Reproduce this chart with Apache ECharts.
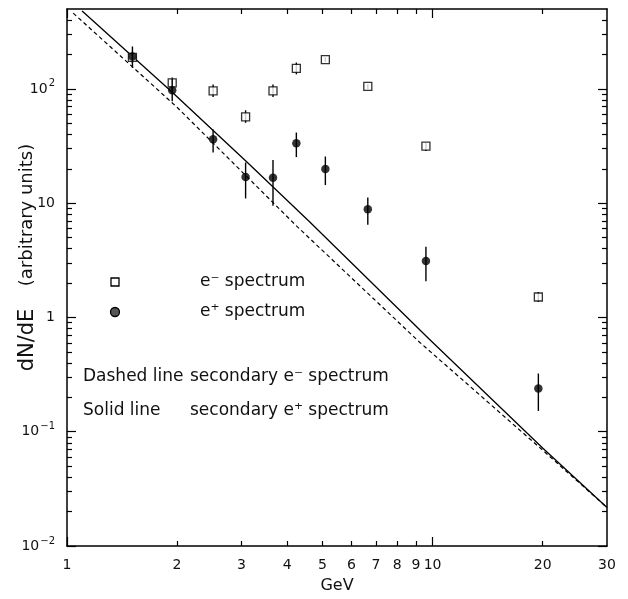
<!DOCTYPE html>
<html><head><meta charset="utf-8">
<script src="https://cdn.jsdelivr.net/npm/echarts@6/dist/echarts.min.js"></script>
<style>html,body{margin:0;padding:0;background:#fff}#c{width:628px;height:599px}</style>
</head><body><div id="c"></div>
<script>
// ---- data ----
const energies   = [1.51, 1.94, 2.51, 3.08, 3.66, 4.24, 5.09, 6.65, 9.59, 19.47];
const eMinus     = [189, 113, 96, 57, 96, 151, 180, 105, 31.6, 1.51];
const eMinusLow  = [168, 101, 85, 50.5, 85, 134, 172, 100, 28.6, 1.37];
const eMinusHigh = [212, 126, 109, 65, 109, 170, 189, 110, 33.6, 1.67];
const ePlus      = [192, 97.5, 36.3, 16.9, 16.7, 33.4, 19.9, 8.83, 3.12, 0.239];
const ePlusLow   = [153, 77.8, 27.7, 11.0, 9.5, 25.3, 14.4, 6.46, 2.07, 0.152];
const ePlusHigh  = [235, 122, 44, 22.7, 23.9, 41.5, 25.6, 11.2, 4.15, 0.323];
const solidX  = [1.1, 1.95, 3.1, 4.6, 9.8, 20, 30];
const solidY  = [480, 92, 23, 6.9, 0.645, 0.072, 0.0217];
const dashedX = [1.04, 2, 4.27, 9.2, 20, 30];
const dashedY = [460, 69, 6.2, 0.61, 0.069, 0.0217];

const xMajorTicks = [1, 10];
const xMinorTicks = [2, 3, 4, 5, 6, 7, 8, 9, 20];
const xTickLabels = [1, 2, 3, 4, 5, 6, 7, 8, 9, 10, 20, 30];
const yMajorTicks = [0.01, 0.1, 1, 10, 100];
const yTickBases  = ['10', '10', '1', '10', '10'];
const yTickExps   = ['−2', '−1', '', '', '2'];
const yMinorTicks = [0.02,0.03,0.04,0.05,0.06,0.07,0.08,0.09,
                     0.2,0.3,0.4,0.5,0.6,0.7,0.8,0.9,
                     2,3,4,5,6,7,8,9,
                     20,30,40,50,60,70,80,90,
                     200,300,400];

const FONT = 'DejaVu Sans';
const X_MIN = 1, X_MAX = 30, Y_MIN = 0.01, Y_MAX = 500;

function xAxisCfg(pos, ticks, len, showLine, withLabels) {
  return {
    type: 'log', logBase: 10, min: X_MIN, max: X_MAX, position: pos,
    axisLine: {show: showLine, onZero: false, lineStyle: {color: '#000', width: 1.5}},
    axisTick: {show: true, inside: true, length: len, customValues: ticks, lineStyle: {color: '#000', width: 1.2}},
    axisLabel: withLabels ? {show: true, customValues: xTickLabels, color: '#111', fontFamily: FONT, fontSize: 14, margin: 12,
                formatter: v => String(Math.round(v))} : {show: false},
    splitLine: {show: false}, minorTick: {show: false},
    name: withLabels ? 'GeV' : '', nameLocation: 'middle', nameGap: 32,
    nameTextStyle: {color: '#111', fontFamily: FONT, fontSize: 16}
  };
}
function yLabel(v) {
  for (let i = 0; i < yMajorTicks.length; i++) {
    if (Math.abs(Math.log10(v) - Math.log10(yMajorTicks[i])) < 1e-6) {
      return '{b|' + yTickBases[i] + '}' + (yTickExps[i] ? '{s|' + yTickExps[i] + '}' : '');
    }
  }
  return '';
}
function yAxisCfg(pos, ticks, len, showLine, withLabels) {
  return {
    type: 'log', logBase: 10, min: Y_MIN, max: Y_MAX, position: pos,
    axisLine: {show: showLine, onZero: false, lineStyle: {color: '#000', width: 1.5}},
    axisTick: {show: true, inside: true, length: len, customValues: ticks, lineStyle: {color: '#000', width: 1.2}},
    axisLabel: withLabels ? {show: true, customValues: yMajorTicks, margin: 12, formatter: yLabel,
                rich: {
                  b: {color: '#111', fontFamily: FONT, fontSize: 14},
                  s: {color: '#111', fontFamily: FONT, fontSize: 10, padding: [0, 0, 10, 1]}
                }} : {show: false},
    splitLine: {show: false}, minorTick: {show: false}
  };
}

function errorBar(params, api) {
  const x = api.value(0);
  const p1 = api.coord([x, api.value(1)]);
  const p2 = api.coord([x, api.value(2)]);
  return {type: 'line', shape: {x1: p1[0], y1: p1[1], x2: p2[0], y2: p2[1]},
          style: {stroke: '#000', lineWidth: 1.4}};
}

const chart = echarts.init(document.getElementById('c'), null, {renderer: 'canvas'});
const txt = {fill: '#111', fontFamily: FONT, fontSize: 17, verticalAlign: 'middle', align: 'left'};
chart.setOption({
  animation: false,
  backgroundColor: '#fff',
  grid: {left: 67, right: 21, top: 9, bottom: 47, containLabel: false},
  xAxis: [
    xAxisCfg('bottom', xMajorTicks, 9, true, true),
    xAxisCfg('bottom', xMinorTicks, 5, false, false),
    xAxisCfg('top', xMajorTicks, 9, true, false),
    xAxisCfg('top', xMinorTicks, 5, false, false)
  ],
  yAxis: [
    yAxisCfg('left', yMajorTicks, 9, true, true),
    yAxisCfg('left', yMinorTicks, 5, false, false),
    yAxisCfg('right', yMajorTicks, 9, true, false),
    yAxisCfg('right', yMinorTicks, 5, false, false)
  ],
  series: [
    {name: 'secondary e⁻ spectrum', type: 'line', data: dashedX.map((x, i) => [x, dashedY[i]]),
     showSymbol: false, lineStyle: {color: '#000', width: 1.2, type: [4, 3]}, z: 2},
    {name: 'secondary e⁺ spectrum', type: 'line', data: solidX.map((x, i) => [x, solidY[i]]),
     showSymbol: false, lineStyle: {color: '#000', width: 1.3}, z: 2},
    {type: 'custom', renderItem: errorBar, encode: {x: 0, y: [1, 2]},
     data: energies.map((x, i) => [x, eMinusLow[i], eMinusHigh[i]]), z: 3},
    {name: 'e⁻ spectrum', type: 'scatter', symbol: 'rect', symbolSize: 8,
     data: energies.map((x, i) => [x, eMinus[i]]),
     itemStyle: {color: '#fff', borderColor: '#000', borderWidth: 1.3}, z: 4},
    {type: 'custom', renderItem: errorBar, encode: {x: 0, y: [1, 2]},
     data: energies.map((x, i) => [x, ePlusLow[i], ePlusHigh[i]]), z: 5},
    {name: 'e⁺ spectrum', type: 'scatter', symbol: 'circle', symbolSize: 8.5,
     data: energies.map((x, i) => [x, ePlus[i]]),
     itemStyle: {color: '#000'}, z: 6}
  ],
  graphic: [
    {type: 'rect', shape: {x: 111, y: 278, width: 8, height: 8}, style: {fill: '#fff', stroke: '#000', lineWidth: 1.3}},
    {type: 'circle', shape: {cx: 115, cy: 312, r: 4.5}, style: {fill: '#555', stroke: '#000', lineWidth: 1.3}},
    {type: 'text', x: 200, y: 282, style: Object.assign({text: 'e⁻ spectrum'}, txt)},
    {type: 'text', x: 200, y: 312, style: Object.assign({text: 'e⁺ spectrum'}, txt)},
    {type: 'text', x: 83, y: 377, style: Object.assign({text: 'Dashed line'}, txt)},
    {type: 'text', x: 190, y: 377, style: Object.assign({text: 'secondary e⁻ spectrum'}, txt)},
    {type: 'text', x: 83, y: 411, style: Object.assign({text: 'Solid line'}, txt)},
    {type: 'text', x: 190, y: 411, style: Object.assign({text: 'secondary e⁺ spectrum'}, txt)},
    {type: 'text', x: 28, y: 340, rotation: Math.PI / 2,
     style: {text: 'dN/dE', fill: '#111', fontFamily: FONT, fontSize: 21, align: 'center', verticalAlign: 'middle'}},
    {type: 'text', x: 27, y: 215, rotation: Math.PI / 2,
     style: {text: '(arbitrary units)', fill: '#111', fontFamily: FONT, fontSize: 18, align: 'center', verticalAlign: 'middle'}}
  ]
});
</script></body></html>
